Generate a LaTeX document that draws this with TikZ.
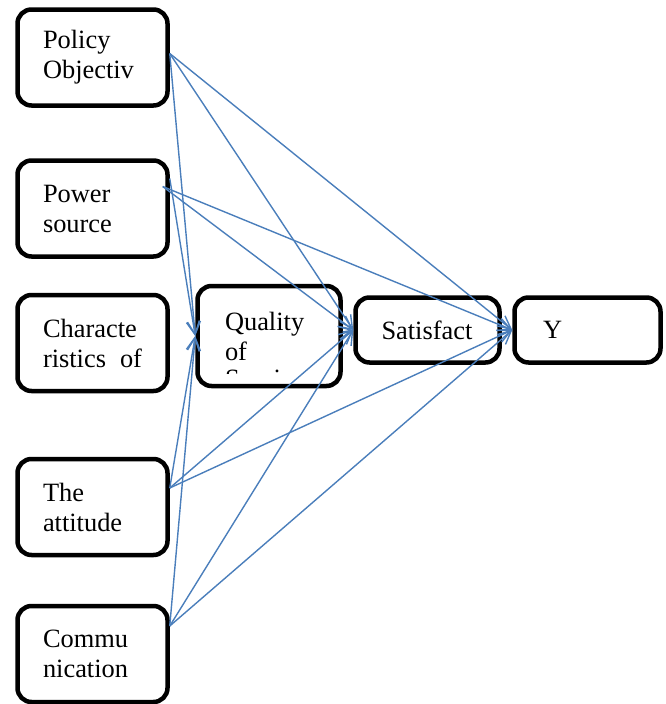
\documentclass[tikz,border=0pt]{standalone}
\usepackage{fontspec}
\setmainfont{Liberation Serif}
\usetikzlibrary{arrows.meta}
\definecolor{linkblue}{RGB}{74,126,187}

\begin{document}
\begin{tikzpicture}[x=1pt, y=-1pt,
  box/.style={draw, line width=4.5pt, rounded corners=14pt, align=left,
    font=\fontsize{26.4}{30}\selectfont},
  leftbox/.style={box, minimum width=150pt, minimum height=96pt,
    text width=99pt, inner xsep=25.5pt},
  smallbox/.style={box, minimum height=65pt},
  link/.style={draw=linkblue, line width=1.4pt,
    -{Straight Barb[length=13pt,width=13pt]}}]
\useasboundingbox (0,0) rectangle (665,704);

% left column
\node[leftbox] (policy) at (92.5, 57.5){Policy\\Objectiv};
\node[leftbox] (power) at (92.5, 208.5){Power\\source};
\node[leftbox] (charact) at (92.5, 343){Characte\\ristics\hspace{\fill}of};
\node[leftbox] (attitude) at (92.5, 507){The\\attitude};
\node[leftbox] (comm) at (92.5, 654){Commu\\nication};

% middle and right
\begin{scope}
\clip (200, 290) rectangle (338, 373);
\node[anchor=base west, inner sep=0pt, font=\fontsize{26.4}{30}\selectfont] (service) at (225, 387){Service};
\end{scope}
\node[box, minimum width=143pt, minimum height=100pt, text width=88pt, inner xsep=27.5pt] (quality) at (269, 336){Quality\\of};
\node[smallbox, minimum width=144pt, text width=92pt, inner xsep=26pt] (satisf) at (427.5, 330){Satisfact};
\node[smallbox, minimum width=146pt, text width=89pt, inner xsep=28.5pt] (y) at (587.5, 330){Y};

% start points
\coordinate (po) at ([yshift=4pt]policy.east);
\coordinate (pwa) at ([yshift=30pt]power.east);
\coordinate (pwb) at ([xshift=-7pt, yshift=22pt]power.east);
\coordinate (at) at ([yshift=19pt]attitude.east);
\coordinate (co) at ([yshift=28pt]comm.east);

\draw[link] (po) -- (quality.west);
\draw[link] (po) -- (satisf.west);
\draw[link] (po) -- (y.west);
\draw[link] (pwa) -- (quality.west);
\draw[link] (pwb) -- (satisf.west);
\draw[link] (pwb) -- (y.west);
\draw[link] (at) -- (quality.west);
\draw[link] (at) -- (satisf.west);
\draw[link] (at) -- (y.west);
\draw[link] (co) -- (quality.west);
\draw[link] (co) -- (satisf.west);
\draw[link] (co) -- (y.west);
\draw[link] ([yshift=4pt]quality.east) -- (satisf.west);
\draw[link] (satisf.east) -- (y.west);
\end{tikzpicture}
\end{document}
